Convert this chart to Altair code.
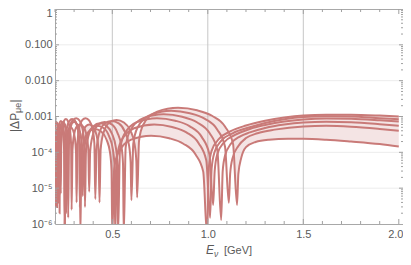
import altair as alt
import pandas as pd

# ---------------- data ----------------
C1_E = [0.200, 0.2025, 0.2075, 0.215, 0.224, 0.234, 0.2425, 0.2475, 0.250,
        0.254, 0.262, 0.275, 0.290, 0.306, 0.321, 0.329, 0.333,
        0.338, 0.350, 0.375, 0.408, 0.442, 0.470, 0.488, 0.496, 0.500,
        0.510, 0.530, 0.599, 0.703, 0.798, 0.872, 0.936, 0.976, 0.996,
        1.006, 1.02, 1.06, 1.12, 1.20, 1.30, 1.40, 1.50, 1.62, 1.75, 1.90, 2.00]
C1_V = [3e-6, 1.2e-4, 3.3e-4, 5.3e-4, 6.0e-4, 5.1e-4, 3.0e-4, 1.2e-4, 8e-7,
        1.7e-4, 4.7e-4, 7.5e-4, 8.5e-4, 7.2e-4, 4.25e-4, 1.7e-4, 5e-7,
        6.8e-5, 1.9e-4, 3.7e-4, 4.5e-4, 3.8e-4, 2.25e-4, 9.9e-5, 3.2e-5, 5e-7,
        3.5e-5, 9.6e-5, 2.26e-4, 2.9e-4, 2.47e-4, 1.74e-4, 8.7e-5, 2.9e-5, 5e-7,
        4e-5, 1.1e-4, 2.4e-4, 3.9e-4, 5.6e-4, 7.6e-4, 9.4e-4, 1.07e-3, 1.12e-3, 1.12e-3, 1.06e-3, 1.0e-3]

C2_E = [0.200, 0.204, 0.208,
        0.2105, 0.2157, 0.2233, 0.2325, 0.2427, 0.2514, 0.2565, 0.259,
        0.2633, 0.2719, 0.2848, 0.3003, 0.3175, 0.3321, 0.3407, 0.345,
        0.350, 0.362, 0.388, 0.422, 0.456, 0.484, 0.503, 0.512, 0.515,
        0.525, 0.545, 0.614, 0.719, 0.813, 0.888, 0.952, 0.992, 1.012,
        1.02, 1.035, 1.07, 1.13, 1.22, 1.30, 1.40, 1.50, 1.62, 1.75, 1.90, 2.00]
C2_V = [2.4e-4, 1.1e-4, 3e-6,
        1e-4, 2.75e-4, 4.4e-4, 5e-4, 4.25e-4, 2.5e-4, 1e-4, 2e-6,
        1.4e-4, 3.85e-4, 6.2e-4, 7e-4, 6e-4, 3.5e-4, 1.4e-4, 6e-6,
        8.3e-5, 2.3e-4, 4.5e-4, 5.5e-4, 4.7e-4, 2.75e-4, 1.2e-4, 3.9e-5, 5e-7,
        7.2e-5, 2.0e-4, 4.7e-4, 6e-4, 5.1e-4, 3.6e-4, 1.8e-4, 6e-5, 1.5e-6,
        3.5e-5, 1.0e-4, 2.1e-4, 3.4e-4, 5.0e-4, 6.6e-4, 8.4e-4, 9.7e-4, 1.02e-3, 1.0e-3, 9.0e-4, 8.4e-4]

C3_E = [0.200, 0.205, 0.211, 0.2145, 0.216,
        0.2187, 0.224, 0.2319, 0.2414, 0.252, 0.2611, 0.2664, 0.269,
        0.2734, 0.2822, 0.2954, 0.3112, 0.3288, 0.3438, 0.3526, 0.357,
        0.362, 0.374, 0.400, 0.435, 0.469, 0.499, 0.518, 0.527, 0.530,
        0.540, 0.560, 0.630, 0.734, 0.829, 0.904, 0.968, 1.008, 1.028,
        1.036, 1.05, 1.085, 1.14, 1.22, 1.30, 1.40, 1.50, 1.62, 1.75, 1.90, 2.00]
C3_V = [3.8e-4, 3.2e-4, 1.8e-4, 7e-5, 4e-6,
        1.4e-4, 3.85e-4, 6.2e-4, 7e-4, 6e-4, 3.5e-4, 1.4e-4, 1.5e-6,
        1.8e-4, 5e-4, 7.9e-4, 9e-4, 7.65e-4, 4.5e-4, 1.8e-4, 3e-6,
        9.8e-5, 2.7e-4, 5.3e-4, 6.5e-4, 5.5e-4, 3.25e-4, 1.43e-4, 4.6e-5, 5e-7,
        1.08e-4, 3.0e-4, 7.0e-4, 9e-4, 7.65e-4, 5.4e-4, 2.7e-4, 9e-5, 3.4e-6,
        3e-5, 9e-5, 1.9e-4, 3.0e-4, 4.5e-4, 5.8e-4, 7.3e-4, 8.3e-4, 8.8e-4, 8.6e-4, 7.8e-4, 7.2e-4]

C4_E = [0.200, 0.205, 0.211, 0.218, 0.224, 0.228, 0.230,
        0.2329, 0.2386, 0.2471, 0.2574, 0.2688, 0.2785, 0.2842, 0.287,
        0.2916, 0.3008, 0.3146, 0.3312, 0.3496, 0.3652, 0.3744, 0.379,
        0.384, 0.397, 0.424, 0.460, 0.497, 0.527, 0.547, 0.556, 0.560,
        0.570, 0.591, 0.662, 0.769, 0.866, 0.943, 1.009, 1.050, 1.070,
        1.078, 1.09, 1.12, 1.17, 1.22, 1.30, 1.40, 1.50, 1.62, 1.75, 1.90, 2.00]
C4_V = [4.6e-4, 6e-4, 6.5e-4, 5.5e-4, 3.2e-4, 1.3e-4, 7e-6,
        1.7e-4, 4.7e-4, 7.5e-4, 8.5e-4, 7.2e-4, 4.25e-4, 1.7e-4, 2.5e-6,
        1.2e-4, 3.3e-4, 5.3e-4, 6e-4, 5.1e-4, 3e-4, 1.2e-4, 8e-6,
        1.05e-4, 2.9e-4, 5.7e-4, 7e-4, 6.0e-4, 3.5e-4, 1.54e-4, 4.9e-5, 5e-7,
        1.38e-4, 3.8e-4, 9.0e-4, 1.15e-3, 9.8e-4, 6.9e-4, 3.45e-4, 1.15e-4, 1.3e-6,
        3e-5, 8e-5, 1.7e-4, 2.8e-4, 3.6e-4, 4.8e-4, 6.0e-4, 6.8e-4, 7.1e-4, 6.9e-4, 6.1e-4, 5.5e-4]

C5_E = [0.200, 0.205, 0.209, 0.211,
        0.213, 0.2172, 0.2233, 0.2307, 0.2389, 0.2459, 0.250, 0.252,
        0.255, 0.2612, 0.2703, 0.2813, 0.2935, 0.3039, 0.310, 0.313,
        0.3179, 0.3277, 0.3424, 0.360, 0.3796, 0.3963, 0.4061, 0.411,
        0.417, 0.430, 0.458, 0.496, 0.534, 0.566, 0.587, 0.596, 0.600,
        0.610, 0.631, 0.702, 0.809, 0.906, 0.983, 1.049, 1.090, 1.110,
        1.117, 1.13, 1.16, 1.20, 1.26, 1.35, 1.50, 1.62, 1.75, 1.90, 2.00]
C5_V = [3.5e-4, 2.2e-4, 8e-5, 3e-6,
        1.5e-4, 4.1e-4, 6.6e-4, 7.5e-4, 6.4e-4, 3.75e-4, 1.5e-4, 1e-6,
        1e-4, 2.75e-4, 4.4e-4, 5e-4, 4.25e-4, 2.5e-4, 1e-4, 4e-6,
        1.8e-4, 5e-4, 7.9e-4, 9e-4, 7.65e-4, 4.5e-4, 1.8e-4, 5e-6,
        1.1e-4, 3.2e-4, 6.2e-4, 7.5e-4, 6.4e-4, 3.75e-4, 1.65e-4, 5.3e-5, 4.6e-6,
        1.74e-4, 4.8e-4, 1.13e-3, 1.45e-3, 1.23e-3, 8.7e-4, 4.35e-4, 1.45e-4, 3.9e-6,
        2.5e-5, 7e-5, 1.5e-4, 2.5e-4, 3.4e-4, 4.3e-4, 5.3e-4, 5.5e-4, 5.2e-4, 4.5e-4, 4.0e-4]

C6_E = [0.200, 0.207, 0.214, 0.219, 0.222, 0.224,
        0.2262, 0.2305, 0.2369, 0.2446, 0.2532, 0.2606, 0.2649, 0.267,
        0.2702, 0.2765, 0.2859, 0.2972, 0.3098, 0.3206, 0.3269, 0.330,
        0.3352, 0.3455, 0.3609, 0.3794, 0.400, 0.4176, 0.4279, 0.433,
        0.439, 0.453, 0.482, 0.522, 0.561, 0.595, 0.616, 0.626, 0.630,
        0.640, 0.661, 0.735, 0.844, 0.944, 1.022, 1.090, 1.132, 1.153,
        1.16, 1.175, 1.20, 1.25, 1.32, 1.42, 1.50, 1.62, 1.75, 1.90, 2.00]
C6_V = [6e-4, 7e-4, 5.8e-4, 3.4e-4, 1.4e-4, 2e-6,
        1.2e-4, 3.3e-4, 5.3e-4, 6e-4, 5.1e-4, 3e-4, 1.2e-4, 5e-6,
        1.6e-4, 4.4e-4, 7e-4, 8e-4, 6.8e-4, 4e-4, 1.6e-4, 3e-6,
        1.2e-4, 3.3e-4, 5.3e-4, 6e-4, 5.1e-4, 3e-4, 1.2e-4, 4e-6,
        1.2e-4, 3.4e-4, 6.6e-4, 8e-4, 6.8e-4, 4.0e-4, 1.76e-4, 5.6e-5, 5.5e-6,
        2.1e-4, 5.8e-4, 1.37e-3, 1.75e-3, 1.49e-3, 1.05e-3, 5.25e-4, 1.75e-4, 3.4e-6,
        2.5e-5, 7e-5, 1.4e-4, 1.95e-4, 2.25e-4, 2.38e-4, 2.38e-4, 2.25e-4, 2.0e-4, 1.7e-4, 1.45e-4]

X_LABELS = [0.5, 1.0, 1.5, 2.0]
X_MINOR = [0.2, 0.3, 0.4, 0.6, 0.7, 0.8, 0.9, 1.1, 1.2, 1.3, 1.4,
           1.6, 1.7, 1.8, 1.9]
GRID_X = [0.5, 1.0, 1.5]
Y_LABELS = [1e-6, 1e-5, 1e-4, 1e-3, 1e-2, 1e-1, 1.0]
GRID_Y = [1e-5, 1e-4, 1e-3, 1e-2, 1e-1]
Y_MINOR = [m * 10.0 ** e for e in range(-6, 0) for m in range(2, 10)]

# ---------------- layout / style ----------------
W, H = 348, 215
LINE = "#C97A78"
TICK = "#A0A0A0"
LAB = "#5A5A5A"
FONT = "Liberation Sans"

curves = [(C1_E, C1_V), (C2_E, C2_V), (C3_E, C3_V),
          (C4_E, C4_V), (C5_E, C5_V), (C6_E, C6_V)]
rows = []
for k, (es, vs) in enumerate(curves):
    for j, (e, v) in enumerate(zip(es, vs)):
        rows.append({"s": k, "E": e, "P": v, "i": j})
df = pd.DataFrame(rows)

poly_e = C1_E + C6_E[::-1]
poly_v = C1_V + C6_V[::-1]
dfp = pd.DataFrame({"E": poly_e, "P": poly_v, "i": list(range(len(poly_e)))})

xs = alt.Scale(domain=[0.2, 2.022], nice=False, zero=False)
ys = alt.Scale(type="log", domain=[1e-6, 1], nice=False)

y_expr = ("datum.value > 0.5 ? '1' : datum.value > 0.0005 ? format(datum.value, '.3f') : "
          "datum.value > 0.00005 ? '10\u207b\u2074' : datum.value > 0.000005 ? '10\u207b\u2075' : '10\u207b\u2076'")

x_axis = alt.Axis(values=X_LABELS, format=".1f", ticks=False, domain=False, grid=False,
                  labelFont=FONT, labelFontSize=11, labelColor=LAB, labelPadding=4,
                  labelOffset={"condition": {"test": "datum.value > 1.9", "value": -3.5}, "value": 0},
                  title=None)
y_axis = alt.Axis(values=Y_LABELS, labelExpr=y_expr, ticks=False, domain=False, grid=False,
                  labelFont=FONT, labelFontSize=11, labelColor=LAB, labelPadding=3,
                  labelOffset={"condition": {"test": "datum.value > 0.5", "value": 4}, "value": 0},
                  title=None)

X = lambda: alt.X("E:Q", scale=xs, axis=x_axis)
Y = lambda: alt.Y("P:Q", scale=ys, axis=y_axis)

hgrid = alt.Chart(pd.DataFrame({"P": GRID_Y})).mark_rule(color="#ECECEC", strokeWidth=1).encode(
    y=Y())
vgrid = alt.Chart(pd.DataFrame({"E": GRID_X})).mark_rule(color="#C6C6C6", strokeWidth=1).encode(
    x=X())

fill = alt.Chart(dfp).mark_line(filled=True, fill=LINE, fillOpacity=0.2, strokeWidth=0,
                                clip=True, interpolate="linear").encode(
    x=X(), y=Y(), order="i:Q")

lines = alt.Chart(df).mark_line(color=LINE, strokeWidth=2, clip=True,
                                interpolate="monotone").encode(
    x=X(), y=Y(), detail="s:N", order="i:Q")

def xticks(vals, length):
    d = pd.DataFrame({"E": vals})
    b = alt.Chart(d).mark_rule(color=TICK, strokeWidth=1).encode(
        x=X(), y=alt.value(H), y2=alt.value(H - length))
    t = alt.Chart(d).mark_rule(color=TICK, strokeWidth=1).encode(
        x=X(), y=alt.value(0), y2=alt.value(length))
    return [b, t]

def yticks(vals, length):
    d = pd.DataFrame({"P": vals})
    l = alt.Chart(d).mark_rule(color=TICK, strokeWidth=1).encode(
        y=Y(), x=alt.value(0), x2=alt.value(length))
    r = alt.Chart(d).mark_rule(color=TICK, strokeWidth=1).encode(
        y=Y(), x=alt.value(W), x2=alt.value(W - length))
    return [l, r]

ticks = (xticks(X_MINOR, 3) + xticks(X_LABELS, 5)
         + yticks(Y_MINOR, 2) + yticks(GRID_Y, 4))

one = pd.DataFrame({"a": [0]})

def txt(s, x, y, size, angle=0, italic=False, baseline="alphabetic"):
    kw = dict(text=s, align="left", baseline=baseline, font=FONT, fontSize=size, color=LAB)
    if angle:
        kw["angle"] = angle
    if italic:
        kw["fontStyle"] = "italic"
    return alt.Chart(one).mark_text(**kw).encode(x=alt.value(x), y=alt.value(y))

titles = [
    txt("|\u0394P", -40, 123, 12, angle=270, baseline="middle"),
    txt("\u03bce", -37, 104, 9, angle=270, baseline="middle"),
    txt("|", -40, 93.5, 12, angle=270, baseline="middle"),
    txt("E", 151, 245, 12, italic=True),
    txt("\u03bd", 159, 247.5, 8.5, italic=True),
    txt("[GeV]", 169, 245, 11),
]

chart = alt.layer(hgrid, vgrid, fill, lines, *ticks, *titles).properties(
    width=W, height=H,
    padding={"left": 47, "top": 1, "right": 0, "bottom": 33},
    autosize=alt.AutoSizeParams(type="none"),
).configure_view(stroke="#A8A8A8", strokeWidth=1)

chart.save("out.html", embed_options={"renderer": "svg", "actions": False})
